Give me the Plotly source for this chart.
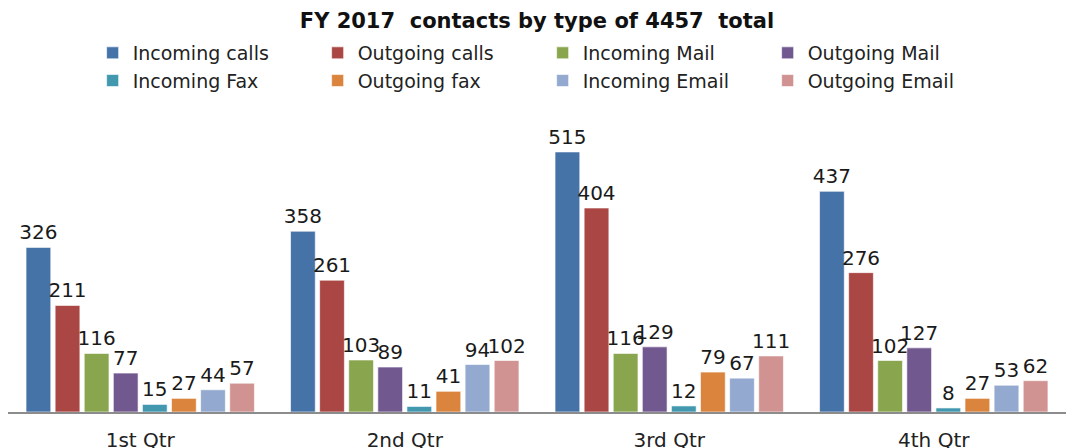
import plotly.graph_objects as go

categories = ["1st Qtr", "2nd Qtr", "3rd Qtr", "4th Qtr"]
series_names = ["Incoming calls", "Outgoing calls", "Incoming Mail", "Outgoing Mail",
                "Incoming Fax", "Outgoing fax", "Incoming Email", "Outgoing Email"]
incoming_calls = [326, 358, 515, 437]
outgoing_calls = [211, 261, 404, 276]
incoming_mail = [116, 103, 116, 102]
outgoing_mail = [77, 89, 129, 127]
incoming_fax = [15, 11, 12, 8]
outgoing_fax = [27, 41, 79, 27]
incoming_email = [44, 94, 67, 53]
outgoing_email = [57, 102, 111, 62]
colors = ["#4572A7", "#AA4643", "#89A54E", "#71588F",
          "#4198AF", "#DB843D", "#93A9CF", "#D19392"]

series_values = [incoming_calls, outgoing_calls, incoming_mail, outgoing_mail,
                 incoming_fax, outgoing_fax, incoming_email, outgoing_email]

fig = go.Figure()
for name, vals, col in zip(series_names, series_values, colors):
    fig.add_trace(go.Bar(
        x=categories, y=vals, name=name,
        marker=dict(color=col, line=dict(color="rgba(255,255,255,0.6)", width=1)),
        text=[str(v) for v in vals], textposition="outside",
        textfont=dict(family="DejaVu Sans", size=20, color="#1a1a1a"),
        constraintext="none", cliponaxis=False,
    ))

fig.update_layout(
    width=1074, height=448,
    paper_bgcolor="white", plot_bgcolor="white",
    margin=dict(l=0, r=16, t=122, b=44),
    barmode="group", bargap=0.12, bargroupgap=0.15,
    title=dict(text="<b>FY 2017\u00a0 contacts by type of 4457\u00a0 total</b>",
               x=0.5, xref="paper", xanchor="center", y=0.972, yanchor="middle",
               font=dict(family="DejaVu Sans", size=21, color="#111")),
    legend=dict(orientation="h", x=0.08, xanchor="left", y=0.942, yref="container",
                yanchor="top", entrywidth=180, itemwidth=30, traceorder="normal",
                font=dict(family="DejaVu Sans", size=19, color="#222"),
                bgcolor="rgba(0,0,0,0)"),
    showlegend=True,
)
fig.update_xaxes(showline=True, linecolor="#8c8c8c", linewidth=1.5, ticks="",
                 showgrid=False, ticklabelstandoff=9, automargin=False,
                 tickfont=dict(family="DejaVu Sans", size=20, color="#222"))
fig.update_yaxes(visible=False, range=[0, 558.5], showgrid=False)

fig.write_html("out.html")
